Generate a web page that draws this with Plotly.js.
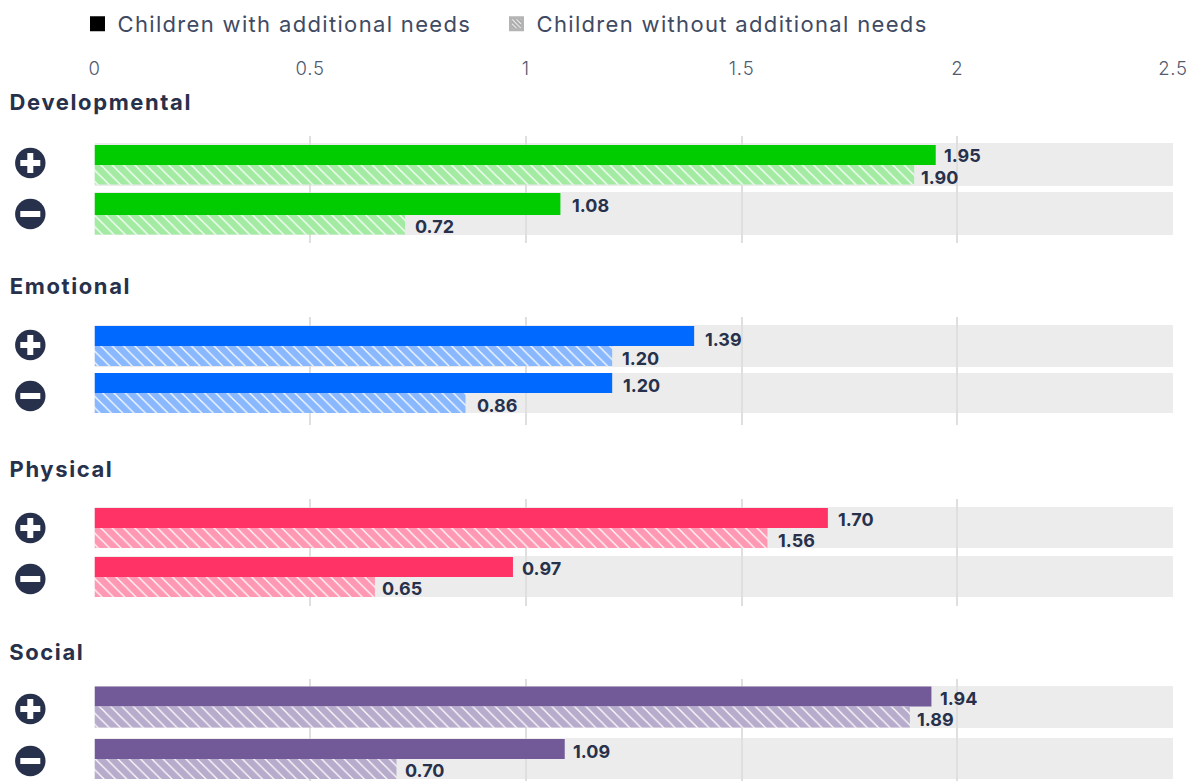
<!DOCTYPE html>
<html>
<head>
<meta charset="utf-8">
<script src="https://cdn.plot.ly/plotly-3.0.1.min.js"></script>
<style>
html, body { margin: 0; padding: 0; background: #fff; }
#chart { width: 1196px; height: 782px; }
/* Wider tracking for the headings, legend and axis numbers */
#chart .legendtext { letter-spacing: 1.33px; }
#chart .legend .scrollbox { clip-path: none !important; }
#chart .xtick text { letter-spacing: 0.8px; }
#chart .annotation[data-index="0"] text,
#chart .annotation[data-index="1"] text,
#chart .annotation[data-index="2"] text,
#chart .annotation[data-index="3"] text { letter-spacing: 1.6px; }
</style>
</head>
<body>
<div id="chart"></div>
<script>
// Average effect per domain, split by whether the outcome was positive or negative
const domains = ["Developmental", "Emotional", "Physical", "Social"];
const outcomes = ["Positive", "Negative"];
const withNeeds = [[1.95, 1.08], [1.39, 1.20], [1.70, 0.97], [1.94, 1.09]];
const withoutNeeds = [[1.90, 0.72], [1.20, 0.86], [1.56, 0.65], [1.89, 0.70]];

const solidColors = ["#00cc00", "#0069ff", "#ff3366", "#725a99"];
const tintColors = ["#a3eba3", "#89b8ff", "#ff99b3", "#b8accc"];
const seriesNames = ["Children with additional needs", "Children without additional needs"];

// Page geometry in pixels
const W = 1196, H = 782;
const plotLeft = 94.5, plotRight = 1173;
const panelSpans = [[136, 243], [317, 425], [499, 606], [679, 781]];
const rowSplit = [[165, 215], [346, 393], [528, 577], [706.5, 759]];
const rowHeights = [[[20, 19.5], [22, 19.5]], [[20, 20], [20, 20]], [[20, 20], [20, 20]], [[20, 21], [20, 20]]];
const tracks = [[[143, 186], [192, 235]], [[325, 367], [373, 413]], [[507, 548], [556, 597]], [[686, 728], [738, 779]]];
const iconRows = [[163, 214], [345, 396], [528, 579], [709, 761]];
const titleRows = [102, 286, 469, 652];

// Where each value label sits: vertical centre, and gap after the bar end
const solidLabelRows = [[155.5, 205.5], [339, 385], [519, 568], [698, 751]];
const tintLabelRows = [[177, 226.5], [358, 405], [540, 588], [719, 770.5]];
const solidLabelGaps = [[8, 11], [10, 10], [10, 9], [8, 8]];
const tintLabelGaps = [[6.5, 9], [9, 11], [10, 7], [7, 8.5]];

const ink = "#27314b";
const fontFace = "Inter, 'Open Sans', sans-serif";
const px = x => x / W;
const py = y => 1 - y / H;
const titlePad = 3.5, labelPad = 1.5, titleTracking = 1.6;

const traces = [];
const layout = {
  width: W, height: H,
  margin: {l: 0, r: 0, t: 0, b: 0, pad: 0},
  paper_bgcolor: "#fff",
  plot_bgcolor: "rgba(0,0,0,0)",
  barmode: "overlay",
  font: {family: fontFace, color: ink},
  xaxis: {
    domain: [px(plotLeft), px(plotRight)],
    range: [0, 2.5],
    dtick: 0.5,
    side: "top",
    anchor: "free",
    position: py(79),
    showline: false,
    ticks: "",
    zeroline: false,
    showgrid: true,
    gridcolor: "#dfdfdf",
    gridwidth: 2,
    fixedrange: true,
    tickfont: {family: fontFace, size: 18.5, color: "#505a70", weight: 300}
  },
  legend: {
    orientation: "h",
    x: px(77.5), xanchor: "left",
    y: py(24), yanchor: "middle",
    font: {family: fontFace, size: 22, color: "#3f4a63", weight: 400},
    entrywidth: 374, entrywidthmode: "pixels",
    bgcolor: "rgba(0,0,0,0)"
  },
  shapes: [],
  annotations: []
};

// Headings come first so the stylesheet can address them by index
domains.forEach((name, g) => {
  layout.annotations.push({
    text: name, xref: "paper", yref: "paper",
    x: px(11 - titlePad), y: py(titleRows[g]), xanchor: "left", yanchor: "middle",
    xshift: name.length * titleTracking / 2,
    showarrow: false,
    font: {family: fontFace, size: 22, weight: 700, color: ink}
  });
});

domains.forEach((name, g) => {
  const suffix = g === 0 ? "" : String(g + 1);
  const [top, bottom] = panelSpans[g];
  const [c1, c2] = rowSplit[g];
  const unit = c2 - c1;

  layout["yaxis" + suffix] = {
    domain: [py(bottom), py(top)],
    range: [(bottom - c1) / unit, (top - c1) / unit],
    type: "category",
    categoryorder: "array",
    categoryarray: outcomes,
    showticklabels: false, ticks: "", showgrid: false, zeroline: false, showline: false,
    fixedrange: true, anchor: "x"
  };

  const heights = rowHeights[g];
  const common = {
    type: "bar", orientation: "h", xaxis: "x", yaxis: "y" + suffix,
    y: outcomes, showlegend: false, hoverinfo: "skip"
  };

  traces.push(Object.assign({}, common, {
    x: withNeeds[g],
    width: heights.map(h => h[0] / unit),
    offset: heights.map(h => -h[0] / unit),
    marker: {color: solidColors[g], line: {width: 0}}
  }));
  traces.push(Object.assign({}, common, {
    x: withoutNeeds[g],
    width: heights.map(h => h[1] / unit),
    offset: 0,
    marker: {
      color: tintColors[g],
      line: {width: 0},
      pattern: {shape: "\\", bgcolor: tintColors[g], fgcolor: "#ffffff", size: 8, solidity: 0.15}
    }
  }));

  // Value labels follow the bar ends through the shared x axis
  const addLabels = (values, rows, gaps) => values.forEach((v, i) => {
    layout.annotations.push({
      text: v.toFixed(2),
      xref: "x", yref: "y" + suffix,
      x: v, y: outcomes[i],
      xanchor: "left", yanchor: "middle",
      xshift: gaps[g][i] - labelPad,
      yshift: [c1, c2][i] - rows[g][i],
      showarrow: false,
      font: {family: fontFace, size: 18, weight: 700, color: ink}
    });
  });
  addLabels(withNeeds[g], solidLabelRows, solidLabelGaps);
  addLabels(withoutNeeds[g], tintLabelRows, tintLabelGaps);

  // Pale track behind each pair of bars
  tracks[g].forEach(([t, b]) => layout.shapes.push({
    type: "rect", layer: "below", xref: "x", yref: "paper",
    x0: 0, x1: 2.5, y0: py(b), y1: py(t),
    fillcolor: "#ececec", line: {width: 0}
  }));

  // Plus and minus badges beside each row
  iconRows[g].forEach((cy, i) => {
    const cx = 30.3, r = 15.2, arm = 10, bar = 3;
    layout.shapes.push({
      type: "circle", layer: "above", xref: "paper", yref: "paper",
      x0: px(cx - r), x1: px(cx + r), y0: py(cy + r), y1: py(cy - r),
      fillcolor: ink, line: {width: 0}
    });
    layout.shapes.push({
      type: "rect", layer: "above", xref: "paper", yref: "paper",
      x0: px(cx - arm), x1: px(cx + arm), y0: py(cy + bar), y1: py(cy - bar),
      fillcolor: "#fff", line: {width: 0}
    });
    if (i === 0) layout.shapes.push({
      type: "rect", layer: "above", xref: "paper", yref: "paper",
      x0: px(cx - bar), x1: px(cx + bar), y0: py(cy + arm), y1: py(cy - arm),
      fillcolor: "#fff", line: {width: 0}
    });
  });
});

// Legend keys only; these carry no bars of their own
const legendKey = {type: "bar", orientation: "h", x: [null], y: [null], xaxis: "x", yaxis: "y", hoverinfo: "skip"};
traces.push(Object.assign({}, legendKey, {
  name: seriesNames[0],
  marker: {color: "#000000", line: {color: "#000000", width: 3}}
}));
traces.push(Object.assign({}, legendKey, {
  name: seriesNames[1],
  marker: {
    color: "#a8a8a8",
    line: {color: "#b4b4b4", width: 3},
    pattern: {shape: "\\", bgcolor: "#a8a8a8", fgcolor: "#ffffff", size: 4, solidity: 0.3}
  }
}));

Plotly.newPlot("chart", traces, layout, {displayModeBar: false, responsive: false});
</script>
</body>
</html>
